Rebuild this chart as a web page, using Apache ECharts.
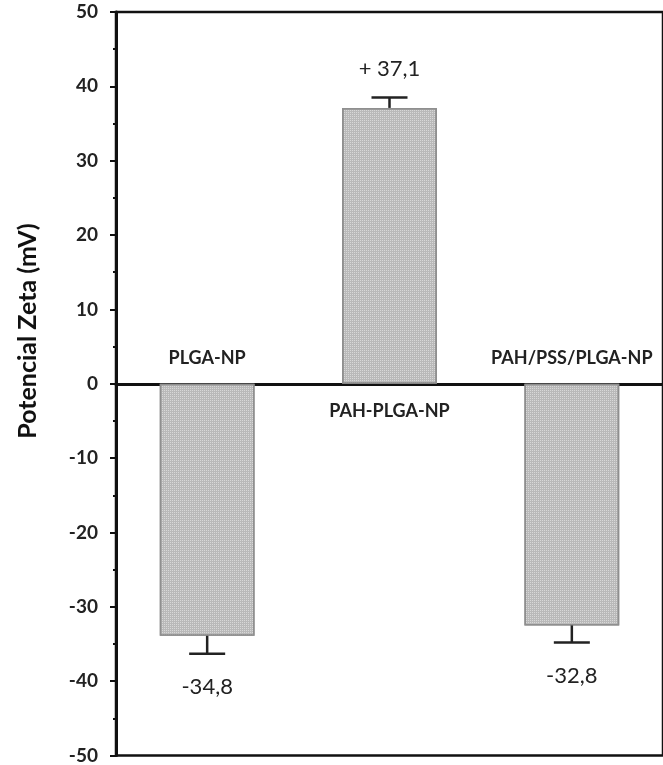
<!DOCTYPE html>
<html>
<head>
<meta charset="utf-8">
<script src="https://cdn.jsdelivr.net/npm/echarts@6/dist/echarts.min.js"></script>
<style>
  html, body { margin: 0; padding: 0; background: #fff; }
  #chart { width: 663px; height: 765px; }
</style>
</head>
<body>
<div id="chart"></div>
<script>
var categories = ['PLGA-NP', 'PAH-PLGA-NP', 'PAH/PSS/PLGA-NP'];
var meanValues = [-33.9, 37.1, -32.5];
var errorValues = [2.4, 1.4, 2.3];
var valueLabels = ['-34,8', '+ 37,1', '-32,8'];
var yTicks = { min: -50, max: 50, interval: 10 };

var font = 'Lato, "Open Sans", sans-serif';

var errData = [];
for (var i = 0; i < categories.length; i++) {
    errData.push([i, meanValues[i], errorValues[i]]);
}

function renderErr(params, api) {
    var idx = api.value(0);
    var v = api.value(1);
    var e = api.value(2);
    var up = v >= 0;
    var p0 = api.coord([idx, v]);
    var p1 = api.coord([idx, up ? v + e : v - e]);
    var pz = api.coord([idx, 0]);
    var half = 18;
    var lineStyle = { stroke: '#222', lineWidth: 2.5 };
    return {
        type: 'group',
        children: [
            { type: 'line', shape: { x1: p0[0], y1: p0[1], x2: p1[0], y2: p1[1] }, style: lineStyle },
            { type: 'line', shape: { x1: p1[0] - half, y1: p1[1], x2: p1[0] + half, y2: p1[1] }, style: lineStyle },
            {
                type: 'text',
                x: p1[0], y: p1[1] + (up ? -29 : 33),
                style: {
                    text: valueLabels[idx], fill: '#222', font: '22px ' + font,
                    align: 'center', verticalAlign: 'middle'
                }
            },
            {
                type: 'text',
                x: pz[0], y: pz[1] + (up ? 27 : -26),
                style: {
                    text: categories[idx], fill: '#222', font: 'bold 18px ' + font,
                    align: 'center', verticalAlign: 'middle'
                }
            }
        ]
    };
}

var chart = echarts.init(document.getElementById('chart'));
chart.setOption({
    animation: false,
    grid: {
        left: 116, right: -11, top: 12, bottom: 3,
        show: true, borderColor: '#111', borderWidth: 2.5
    },
    graphic: [{
        type: 'text',
        x: 28, y: 331,
        rotation: Math.PI / 2,
        style: {
            text: 'Potencial Zeta (mV)', fill: '#111',
            font: 'bold 25px ' + font,
            align: 'center', verticalAlign: 'middle'
        }
    }],
    xAxis: {
        type: 'category',
        data: categories,
        axisLine: { onZero: true, lineStyle: { color: '#111', width: 3 } },
        axisTick: { show: false },
        axisLabel: { show: false }
    },
    yAxis: {
        type: 'value',
        min: yTicks.min, max: yTicks.max, interval: yTicks.interval,
        axisLine: { show: true, lineStyle: { color: '#111', width: 3 } },
        axisTick: { show: true, length: 6, lineStyle: { color: '#111', width: 2 } },
        minorTick: { show: true, splitNumber: 2, length: 3, lineStyle: { color: '#111', width: 2 } },
        splitLine: { show: false },
        axisLabel: { color: '#222', fontSize: 19, fontWeight: 'bold', fontFamily: font, margin: 18 }
    },
    series: [{
        type: 'bar',
        data: meanValues,
        barWidth: '52%',
        itemStyle: {
            color: '#b9b9b9', borderColor: '#8f8f8f', borderWidth: 1.5,
            decal: {
                symbol: 'rect', symbolSize: 1,
                dashArrayX: [1, 1], dashArrayY: [1, 1],
                color: 'rgba(255,255,255,0.45)', rotation: 0
            }
        }
    }, {
        type: 'custom',
        renderItem: renderErr,
        data: errData,
        z: 5
    }]
});
</script>
</body>
</html>
